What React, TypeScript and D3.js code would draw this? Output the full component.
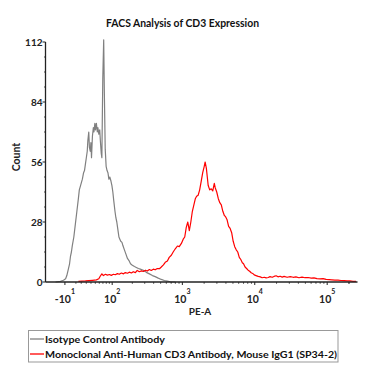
import React from "react";
import * as d3 from "d3";

// ---------- Data ----------
// Histogram counts per display channel (0..1024 channels across the PE-A axis)
const isotypeChannel = [33, 49, 59, 66, 70, 75, 79, 82, 85, 88, 93, 98, 103, 108, 111, 115, 118, 121, 125, 128, 131, 134, 137, 139, 142, 144, 147, 149, 151, 154, 157, 159, 162, 164, 167, 170, 172, 175, 178, 180, 183, 185, 188, 191, 193, 196, 199, 202, 205, 208, 211, 215, 218, 221, 224, 228, 231, 234, 238, 241, 244, 247, 251, 254, 259, 264, 269, 274, 279, 285, 292, 298, 305, 311, 321, 331, 341, 351, 360, 370, 380, 390, 400, 410, 426];
const isotypeCount = [0, 0.3, 0.8, 1.5, 3, 6, 8.5, 12, 14, 17, 21, 27, 33, 39, 43, 45, 46.5, 48, 51, 52, 55, 58, 61, 66, 70, 63, 61, 65, 58, 68, 72, 70, 74, 71, 74, 70, 72, 69, 71, 66, 60, 58, 95, 113, 90, 62, 54, 52, 51, 48, 49, 47, 45, 42, 38, 33, 30, 28, 24, 21, 20, 19, 18.5, 17, 15, 13, 11, 10, 8.5, 7.8, 7.2, 6.8, 6.3, 6, 5.5, 4.5, 3.8, 3, 2.5, 1.8, 1.2, 0.7, 0.4, 0.1, 0];

const cd3Channel = [108, 131, 154, 167, 175, 180, 185, 190, 197, 203, 210, 216, 223, 229, 236, 242, 249, 256, 262, 269, 275, 282, 288, 295, 301, 308, 315, 321, 328, 334, 341, 347, 354, 360, 367, 374, 380, 387, 393, 400, 406, 413, 419, 426, 433, 439, 446, 452, 457, 462, 467, 472, 477, 482, 487, 492, 496, 501, 506, 511, 516, 521, 524, 528, 531, 534, 539, 544, 549, 554, 557, 562, 567, 572, 577, 582, 587, 591, 596, 601, 606, 611, 616, 621, 626, 631, 636, 641, 646, 650, 655, 660, 665, 670, 675, 680, 685, 691, 698, 705, 711, 718, 724, 731, 737, 744, 750, 757, 763, 770, 777, 783, 793, 803, 813, 822, 832, 842, 852, 862, 872, 881, 891, 901, 911, 921, 931, 940, 950, 960, 970, 980, 990, 999, 1009, 1019];
const cd3Count = [0.3, 0.5, 0.8, 1, 1.5, 2.8, 3.8, 3, 3.6, 3.2, 3.5, 3.1, 3.6, 3.4, 3.9, 3.6, 4.2, 3.8, 4.4, 4.1, 4.6, 4.2, 4.8, 4.4, 5.4, 4.8, 5.2, 4.9, 5.5, 5.1, 5.8, 5.4, 6, 5.7, 6.3, 6.2, 7, 8, 9.2, 9.8, 11.5, 12.5, 14, 15.5, 16.8, 16.5, 18, 20, 21, 25.5, 28, 24, 28, 33, 36, 39, 40, 40.5, 43, 47, 51, 54, 56, 53, 49, 45, 43, 43.5, 42.5, 46, 44, 42, 39, 37, 36, 33, 31, 30.5, 29, 26, 25, 23, 19, 16.5, 15, 14, 11.5, 10.5, 9, 8.5, 7, 6.3, 5.5, 5, 4.3, 4, 3.3, 3, 2.6, 2.4, 2, 2.2, 1.9, 2.1, 2.5, 2.2, 2.6, 2.9, 2.4, 2.7, 2.3, 2.6, 2.2, 2.5, 2.2, 2.4, 2.0, 2.3, 2.0, 2.1, 1.8, 1.9, 1.6, 1.5, 1.6, 1.2, 1.1, 1.0, 0.9, 0.9, 0.7, 0.6, 0.5, 0.5, 0.3, 0.3];

const xTickValues = [-10, 100, 1000, 10000, 100000];
const xTickBase = ["-10", "10", "10", "10", "10"];
const xTickExp = ["1", "2", "3", "4", "5"];
const yTickValues = [0, 28, 56, 84, 112];

const seriesNames = ["Isotype Control Antibody", "Monoclonal Anti-Human CD3 Antibody, Mouse IgG1 (SP34-2)"];
const seriesColors = ["#808080", "#ff0000"];

const title = "FACS Analysis of CD3 Expression";
const xLabel = "PE-A";
const yLabel = "Count";

// ---------- Layout ----------
const W = 378;
const H = 378;
const left = 45.5;
const right = 357.5;
const top = 42;
const bottom = 282;
const CHANNELS = 1024;
const PE_MIN = -50;
const PE_MAX = 262144;
const COF = 57;
const T = (v: number) => Math.asinh(v / COF);

const FONT = "Lato, 'Open Sans', sans-serif";

export default function App() {
  const xT = d3.scaleLinear().domain([T(PE_MIN), T(PE_MAX)]).range([left, right]);
  const xCh = d3.scaleLinear().domain([0, CHANNELS]).range([left, right]);
  const y = d3.scaleLinear().domain([0, 112]).range([bottom, top]);

  const line = d3
    .line<[number, number]>()
    .x((d) => xCh(d[0]))
    .y((d) => y(d[1]));

  const iso = isotypeChannel.map((c, i) => [c, isotypeCount[i]] as [number, number]);
  const cd3 = cd3Channel.map((c, i) => [c, cd3Count[i]] as [number, number]);

  const minorX: number[] = [];
  for (let k = 1; k <= 5; k++) {
    for (let m = 1; m <= 9; m++) {
      const v = m * Math.pow(10, k);
      if (v <= PE_MAX && !xTickValues.includes(v)) minorX.push(v);
    }
  }
  minorX.push(200000);
  const minorY: number[] = [];
  for (let v = 0; v <= 112; v += 7) if (!yTickValues.includes(v)) minorY.push(v);

  return (
    <svg width={W} height={H} style={{ position: "absolute", left: 0, top: 0, background: "#fff" }}>
      <rect width={W} height={H} fill="#fff" />
      <text x={182.5} y={27} textAnchor="middle" fontFamily={FONT} fontWeight="bold" fontSize={10.5} fill="#111" textLength={153} lengthAdjust="spacingAndGlyphs">
        {title}
      </text>

      {/* curves */}
      <path d={line(iso) || ""} fill="none" stroke={seriesColors[0]} strokeWidth={1.2} strokeLinejoin="round" />
      <path d={line(cd3) || ""} fill="none" stroke={seriesColors[1]} strokeWidth={1.2} strokeLinejoin="round" />

      {/* axes */}
      <line x1={left} x2={left} y1={top} y2={bottom} stroke="#222" strokeWidth={1.3} />
      <line x1={left} x2={right} y1={bottom} y2={bottom} stroke="#222" strokeWidth={1.5} />
      {yTickValues.map((v) => (
        <g key={"yt" + v}>
          <line x1={left - 3} x2={left} y1={y(v)} y2={y(v)} stroke="#222" strokeWidth={1} />
          <text x={left - 3} y={y(v) + 3.5} textAnchor="end" fontFamily={FONT} fontWeight="bold" fontSize={10} fill="#222">
            {v}
          </text>
        </g>
      ))}
      {minorY.map((v) => (
        <line key={"ym" + v} x1={left - 1.5} x2={left} y1={y(v)} y2={y(v)} stroke="#222" strokeWidth={0.8} />
      ))}
      {minorX.map((v) => (
        <line key={"xm" + v} x1={xT(T(v))} x2={xT(T(v))} y1={bottom} y2={bottom + 1.8} stroke="#222" strokeWidth={0.8} />
      ))}
      {xTickValues.map((v, i) => (
        <g key={"xt" + v}>
          <line x1={xT(T(v))} x2={xT(T(v))} y1={bottom} y2={bottom + 3} stroke="#222" strokeWidth={1} />
          <text x={xT(T(v))} y={303} textAnchor="middle" fontFamily={FONT} fontWeight="bold" fontSize={10.5} fill="#222">
            {xTickBase[i]}
            <tspan dy={-9} fontSize={7}>
              {xTickExp[i]}
            </tspan>
          </text>
        </g>
      ))}
      <text x={200} y={315} textAnchor="middle" fontFamily={FONT} fontWeight="bold" fontSize={10} fill="#222">
        {xLabel}
      </text>
      <text transform={`translate(20,157) rotate(-90)`} textAnchor="middle" fontFamily={FONT} fontWeight="bold" fontSize={10.5} fill="#222">
        {yLabel}
      </text>

      {/* legend */}
      <rect x={28.5} y={330.5} width={309.5} height={31.5} fill="#fff" stroke="#999" strokeWidth={1} />
      {seriesNames.map((name, i) => (
        <g key={name}>
          <line x1={30} x2={44} y1={339 + i * 15} y2={339 + i * 15} stroke={seriesColors[i]} strokeWidth={1.3} />
          <text x={45} y={342.5 + i * 15} fontFamily={FONT} fontWeight="bold" fontSize={10} fill="#111" textLength={i === 0 ? 120 : 292} lengthAdjust="spacingAndGlyphs">
            {name}
          </text>
        </g>
      ))}
    </svg>
  );
}
